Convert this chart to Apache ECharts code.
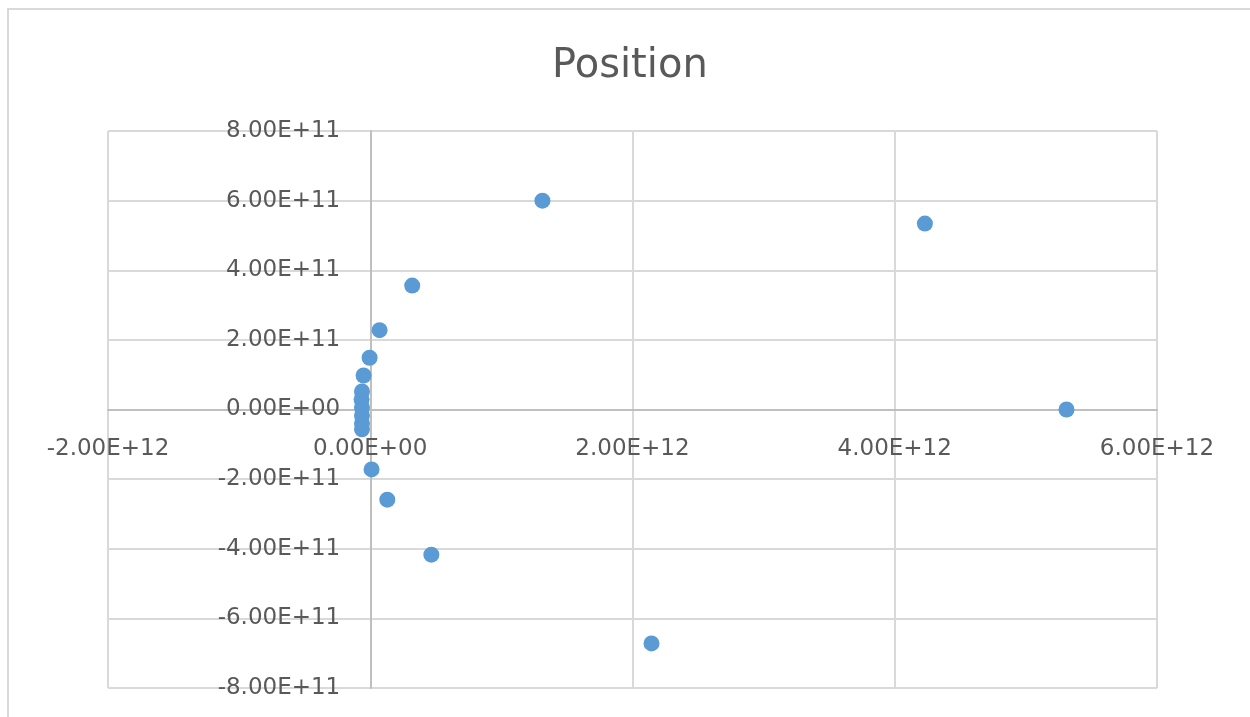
<!DOCTYPE html>
<html>
<head>
<meta charset="utf-8">
<script src="https://cdn.jsdelivr.net/npm/echarts@6/dist/echarts.min.js"></script>
<style>
html,body{margin:0;padding:0;background:#fff;}
#chart{width:1250px;height:717px;}
</style>
</head>
<body>
<div id="chart"></div>
<script>
const chartTitle = 'Position';
const xValues = [1.313e12, 4.23e12, 5.31e12, 2.145e12, 0.466e12, 0.13e12, 0.01e12, 0.32e12, 0.071e12, -0.005e12, -0.051e12,
  -0.063e12, -0.066e12, -0.063e12, -0.063e12, -0.063e12, -0.063e12];
const yValues = [6.0e11, 5.34e11, 0, -6.72e11, -4.17e11, -2.59e11, -1.72e11, 3.56e11, 2.28e11, 1.486e11, 0.977e11,
  5.2e10, 2.9e10, 0.6e10, -1.7e10, -4.0e10, -5.7e10];
const xAxisRange = { min: -2e12, max: 6e12, interval: 2e12 };
const yAxisRange = { min: -8e11, max: 8e11, interval: 2e11 };

const points = xValues.map((x, i) => [x, yValues[i]]);

function sci(v) {
  const parts = Number(v).toExponential(2).split('e');
  let exp = parts[1];
  const sign = exp[0] === '-' ? '-' : '+';
  exp = exp.replace(/[+-]/, '');
  if (exp.length < 2) exp = '0' + exp;
  return parts[0] + 'E' + sign + exp;
}

// grid geometry
const G = { left: 108, right: 93, top: 131, bottom: 29, w: 1250, h: 717 };
const plotW = G.w - G.left - G.right;
const plotH = G.h - G.top - G.bottom;
// move the axes (line + labels) to the zero crossing
const xZeroFrac = (0 - xAxisRange.min) / (xAxisRange.max - xAxisRange.min);
const yZeroFrac = (0 - yAxisRange.min) / (yAxisRange.max - yAxisRange.min);
const xAxisOffset = -(plotH * yZeroFrac);
const yAxisOffset = -(plotW * xZeroFrac);

const labelStyle = { color: '#595959', fontSize: 23, fontFamily: 'DejaVu Sans' };
const gridLine = { lineStyle: { color: '#d9d9d9', width: 2 } };
const axisLine = { onZero: false, lineStyle: { color: '#bfbfbf', width: 2 } };

const chart = echarts.init(document.getElementById('chart'));
chart.setOption({
  animation: false,
  backgroundColor: '#fff',
  graphic: [{
    type: 'rect', z: -10,
    shape: { x: 8, y: 9, width: 1300, height: 760 },
    style: { fill: 'none', stroke: '#d9d9d9', lineWidth: 2 }
  }],
  title: {
    text: chartTitle, left: 547, top: 42,
    textStyle: { color: '#595959', fontSize: 40, fontWeight: 'normal', fontFamily: 'DejaVu Sans' }
  },
  grid: { left: G.left, right: G.right, top: G.top, bottom: G.bottom, containLabel: false, outerBoundsMode: 'none' },
  xAxis: {
    type: 'value', min: xAxisRange.min, max: xAxisRange.max, interval: xAxisRange.interval,
    offset: xAxisOffset,
    axisLine: axisLine, axisTick: { show: false }, splitLine: gridLine,
    axisLabel: Object.assign({ margin: 28, formatter: sci }, labelStyle)
  },
  yAxis: {
    type: 'value', min: yAxisRange.min, max: yAxisRange.max, interval: yAxisRange.interval,
    offset: yAxisOffset,
    axisLine: axisLine, axisTick: { show: false }, splitLine: gridLine,
    axisLabel: Object.assign({ margin: 30, formatter: sci }, labelStyle)
  },
  series: [{
    type: 'scatter', data: points, symbolSize: 16,
    itemStyle: { color: '#5b9bd5', opacity: 1 }
  }]
});
</script>
</body>
</html>
